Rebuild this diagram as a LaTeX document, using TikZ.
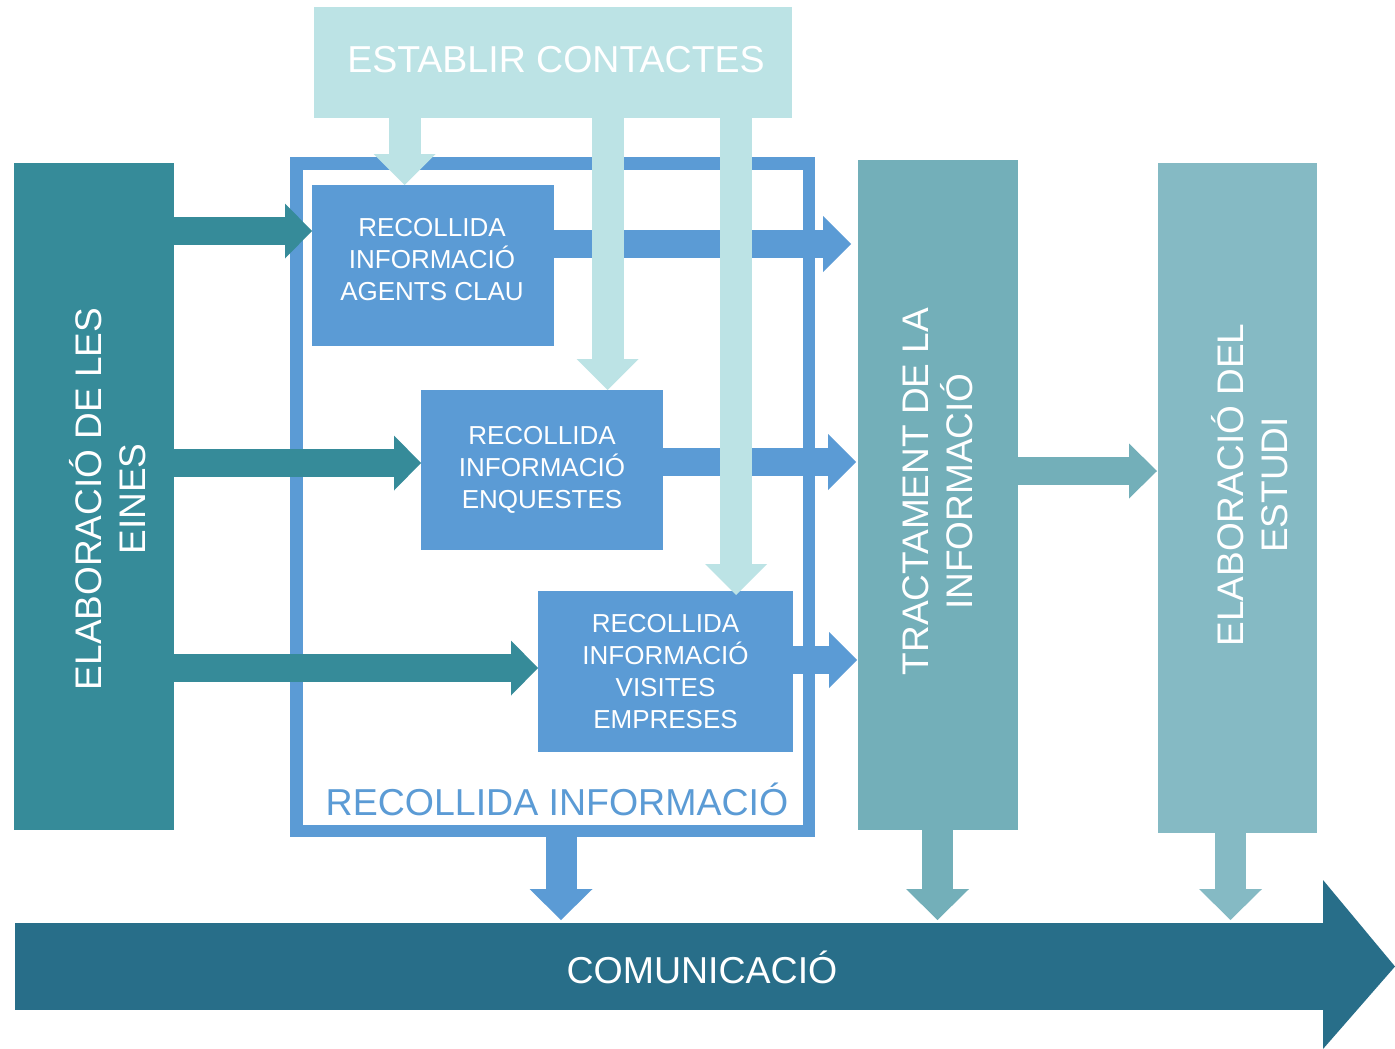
\documentclass[tikz,border=0pt]{standalone}
\usepackage{fontspec}
\setmainfont{Liberation Sans}
\usetikzlibrary{arrows.meta,calc}
\definecolor{lightc}{HTML}{BCE3E5}
\definecolor{bluec}{HTML}{5B9BD5}
\definecolor{tealc}{HTML}{368B99}
\definecolor{tractc}{HTML}{73AFB9}
\definecolor{estudic}{HTML}{85BAC4}
\definecolor{commc}{HTML}{286E89}
\begin{document}
\begin{tikzpicture}[x=1pt,y=-1pt,
  blk/.style={inner sep=0pt, outer sep=0pt, anchor=north west, text=white, align=center},
  boxtxt/.style={font=\fontsize{26}{32}\selectfont},
  bigtxt/.style={font=\fontsize{37.5}{43}\selectfont},
  vtxt/.style={text=white, align=center, rotate=90, inner sep=0pt, font=\fontsize{37}{44}\selectfont},
  tarr/.style={draw=tealc, line width=28pt, -{Triangle[width=55pt,length=27pt,line width=0pt]}},
  barr/.style={draw=bluec, line width=28pt, -{Triangle[width=56pt,length=28pt,line width=0pt]}},
  larr/.style={draw=lightc, line width=32pt, -{Triangle[width=62pt,length=31pt,line width=0pt]}},
  darr/.style={draw=#1, line width=31pt, -{Triangle[width=63pt,length=31pt,line width=0pt]}},
  harr/.style={draw=tractc, line width=28pt, -{Triangle[width=55pt,length=28pt,line width=0pt]}}
]
\useasboundingbox (0,0) rectangle (1395,1049);
\fill[white] (0,0) rectangle (1395,1049);

% vertical bars
\node[blk, fill=tealc, minimum width=160pt, minimum height=667pt] (elab) at (14,163) {};
\node[blk, fill=tractc, minimum width=160pt, minimum height=670pt] (tract) at (858,160) {};
\node[blk, fill=estudic, minimum width=159pt, minimum height=670pt] (estudi) at (1158,163) {};
\node[vtxt] (elabtxt) at (108,499) {ELABORACIÓ DE LES\\EINES};
\node[vtxt] (tracttxt) at (937.5,491.5) {TRACTAMENT DE LA\\INFORMACIÓ};
\node[vtxt] (estuditxt) at (1250,485) {ELABORACIÓ DEL\\ESTUDI};

% recollida frame
\node[inner sep=0pt, outer sep=0pt, anchor=north west, draw=bluec, line width=12.5pt,
      minimum width=512.5pt, minimum height=667.5pt] (frame) at (296.25,163.25) {};
\node[text=bluec, bigtxt, inner sep=0pt] (framelabel) at (557,799) {RECOLLIDA INFORMACIÓ};

% establir contactes
\node[blk, fill=lightc, minimum width=478pt, minimum height=111pt] (establir) at (314,7) {};
\node[text=white, bigtxt, inner sep=0pt] (establirtxt) at (556,60) {ESTABLIR CONTACTES};

% boxes
\node[blk, fill=bluec, minimum width=242pt, minimum height=161pt] (box1) at (312,185) {};
\node[text=white, align=center, boxtxt, inner sep=0pt] (box1txt) at (432,260) {RECOLLIDA\\INFORMACIÓ\\AGENTS CLAU};
\node[blk, fill=bluec, minimum width=242pt, minimum height=160pt, boxtxt] (box2) at (421,390) {RECOLLIDA\\INFORMACIÓ\\ENQUESTES};
\node[blk, fill=bluec, minimum width=255pt, minimum height=161pt, boxtxt] (box3) at (538,591) {RECOLLIDA\\INFORMACIÓ\\VISITES\\EMPRESES};

% blue arrows to tractament
\draw[barr] (box1.east |- 0,244) -- ($(tract.west |- 0,244)+(-7,0)$);
\draw[barr] (box2.east |- 0,462) -- ($(tract.west |- 0,462)+(-2,0)$);
\draw[barr] (box3.east |- 0,660) -- ($(tract.west |- 0,660)+(-1,0)$);

% teal arrows from elaboracio
\draw[tarr] (elab.east |- 0,231) -- (box1.west |- 0,231);
\draw[tarr] (elab.east |- 0,463) -- (box2.west |- 0,463);
\draw[tarr] (elab.east |- 0,668) -- (box3.west |- 0,668);

% light arrows from establir
\draw[larr] (establir.south -| 404.5,0) -- (404.5,0 |- box1.north);
\draw[larr] (establir.south -| 607.5,0) -- (607.5,0 |- box2.north);
\draw[larr] (establir.south -| 736,0) -- ($(736,0 |- box3.north)+(0,4)$);

% tractament -> estudi
\draw[harr] (tract.east |- 0,471) -- ($(estudi.west |- 0,471)+(-1,0)$);

% comunicacio
\node[blk, fill=commc, minimum width=1308pt, minimum height=87pt] (comm) at (15,923) {};
\fill[commc] (comm.north east) -- ++(0,-43) -- (1395,966.5) -- (1323,1049) -- (comm.south east) -- cycle;
\node[text=white, bigtxt, inner sep=0pt] (commtxt) at (702,967) {COMUNICACIÓ};

% down arrows
\draw[darr=bluec] (frame.south -| 561,0) -- ($(561,0 |- comm.north)+(0,-3)$);
\draw[darr=tractc] (tract.south -| 937.5,0) -- ($(937.5,0 |- comm.north)+(0,-3)$);
\draw[darr=estudic] (estudi.south -| 1230.5,0) -- ($(1230.5,0 |- comm.north)+(0,-3)$);
\end{tikzpicture}
\end{document}
